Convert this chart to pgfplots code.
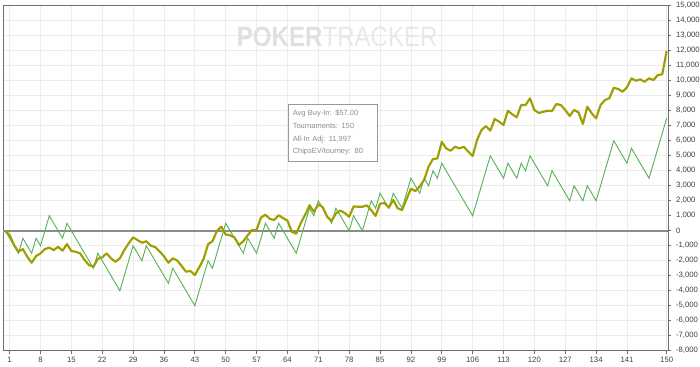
\documentclass[border=0pt]{standalone}
\usepackage{pgfplots}
\pgfplotsset{compat=1.18}
\usepackage{fontspec}
\setmainfont{Liberation Sans}
\usetikzlibrary{calc}
\definecolor{olivel}{RGB}{158,158,0}
\definecolor{greenl}{RGB}{88,178,88}
\definecolor{gridc}{RGB}{236,236,236}
\definecolor{axc}{RGB}{110,110,110}
\definecolor{wm}{RGB}{232,232,232}
\definecolor{wmb}{RGB}{224,224,224}
\begin{document}
\begin{tikzpicture}
\begin{axis}[
  scale only axis,
  width=498.7pt, height=258.75pt,
  xmin=-0.5, xmax=150.3,
  ymin=-8000, ymax=15000,
  xtick={1,8,15,22,29,36,43,50,57,64,71,78,85,92,99,106,113,120,127,134,141,150},
  ytick={-8000,-7000,...,15000},
  xtick pos=bottom,
  ytick pos=right,
  yticklabel pos=right,
  tick align=outside,
  major tick length=2.5pt,
  tick style={axc, line width=0.6pt},
  axis line style={axc, line width=0.7pt},
  grid=major,
  major grid style={gridc, line width=0.6pt},
  /pgf/number format/assume math mode=true,
  /pgf/number format/1000 sep={,},
  scaled y ticks=false,
  tick label style={font=\fontsize{5.8}{6}\selectfont, text=black!75},
  xticklabel style={yshift=1pt},
  yticklabel style={xshift=0pt},
  clip=false,
]
\node[anchor=base, text=wm, font=\fontsize{21}{21}\selectfont, xscale=0.86] at (axis cs:75.3,12250) {{\color{wmb}\bfseries POKER}TRACKER};
\addplot[axc!80, line width=1.5pt, no marks] coordinates {(-0.5,0) (150.3,0)};
\addplot[greenl, line width=0.7pt, no marks] coordinates {
(0,0)(3,-1500)(4,-500)(6,-1500)(7,-500)(8,-1000)(10,1000)(13,-500)(14,500)(20,-2500)(21,-1500)(26,-4000)(29,-1000)(31,-2000)(32,-1000)(37,-3500)(38,-2500)(43,-5000)(46,-2000)(47,-2500)(50,500)(51,0)(54,-1500)(55,-500)(57,-1500)(59,500)(61,-500)(62,500)(66,-1500)(69,1500)(70,1000)(71,2000)(74,500)(75,1500)(78,0)(79,1000)(81,0)(83,2000)(84,1500)(85,2500)(87,1500)(88,2500)(90,1500)(92,3500)(94,2500)(95,3500)(96,3000)(97,4000)(98,3500)(99,4500)(106,1000)(110,5000)(113,3500)(114,4500)(116,3500)(117,4500)(118,4000)(119,5000)(123,3000)(124,4000)(128,2000)(129,3000)(131,2000)(132,3000)(134,2000)(138,6000)(141,4500)(142,5500)(146,3500)(150,7500)
};
\addplot[olivel, line width=1.6pt, no marks, line join=round] coordinates {
(0,0)(1,-290)(2,-950)(3,-1400)(4,-1220)(5,-1730)(6,-2130)(7,-1690)(8,-1510)(9,-1220)(10,-1130)(11,-1290)(12,-1070)(13,-1330)(14,-890)(15,-1350)(16,-1400)(17,-1510)(18,-1950)(19,-2290)(20,-2400)(21,-1870)(22,-1770)(23,-1510)(24,-1840)(25,-2070)(26,-1840)(27,-1290)(28,-840)(29,-440)(30,-620)(31,-800)(32,-700)(33,-990)(34,-1090)(35,-1370)(36,-1710)(37,-2130)(38,-1840)(39,-1980)(40,-2350)(41,-2730)(42,-2680)(43,-2950)(44,-2440)(45,-1870)(46,-900)(47,-700)(48,-20)(49,270)(50,-250)(51,-300)(52,-450)(53,-950)(54,-700)(55,-300)(56,50)(57,50)(58,880)(59,1070)(60,790)(61,720)(62,1030)(63,850)(64,670)(65,-70)(66,-200)(67,500)(68,1050)(69,1700)(70,1270)(71,1750)(72,1570)(73,940)(74,650)(75,1150)(76,1350)(77,1180)(78,930)(79,1620)(80,1600)(81,1600)(82,1690)(83,1380)(84,990)(85,1800)(86,1850)(87,1550)(88,2050)(89,1500)(90,1380)(91,2100)(92,2800)(93,2650)(94,2950)(95,3400)(96,4270)(97,4780)(98,4820)(99,5930)(100,5490)(101,5330)(102,5600)(103,5490)(104,5600)(105,5270)(106,4980)(107,6050)(108,6710)(109,6980)(110,6670)(111,7450)(112,7270)(113,7050)(114,8000)(115,7760)(116,7560)(117,8380)(118,8380)(119,8830)(120,8050)(121,7850)(122,7930)(123,8000)(124,7980)(125,8450)(126,8380)(127,8050)(128,7650)(129,8050)(130,7890)(131,7110)(132,8270)(133,7830)(134,7490)(135,8380)(136,8710)(137,8830)(138,9530)(139,9450)(140,9270)(141,9560)(142,10160)(143,10000)(144,10090)(145,9930)(146,10160)(147,10050)(148,10380)(149,10430)(150,11997)
};
\node[draw=black!40, line width=0.6pt, fill=white, anchor=north west, align=left,
  minimum width=66.75pt, minimum height=42.75pt, text width=60pt, inner sep=3pt,
  text=black!45, font=\fontsize{5.6}{9.5}\selectfont] at (axis cs:64.1,8450)
  {Avg Buy-In: \$57.00\\Tournaments: 150\\All-In Adj: 11,997\\ChipsEV/tourney: 80};
\end{axis}
\pgfresetboundingbox
\path[use as bounding box] ($(current axis.south west)+(-2.25pt,-11.5pt)$) rectangle ($(current axis.north east)+(24pt,4.3pt)$);
\end{tikzpicture}
\end{document}
